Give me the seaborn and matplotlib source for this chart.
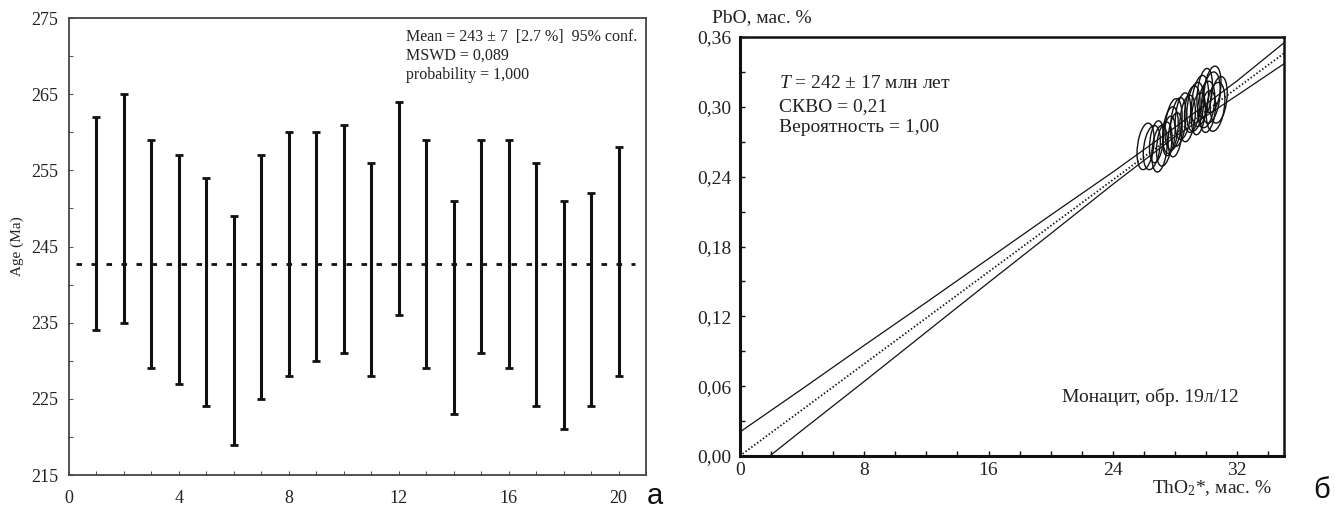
import matplotlib
matplotlib.use("Agg")
import matplotlib.pyplot as plt
from matplotlib.patches import Ellipse
from matplotlib.transforms import Affine2D
from matplotlib.ticker import MultipleLocator, FixedLocator
import numpy as np
import pandas as pd
import seaborn as sns

# ---------- panel а: single-spot ages with 2-sigma errors ----------
spot = list(range(1, 21))
age_ma = [248, 250, 244, 242, 239, 234, 241, 244, 245, 246,
          242, 250, 244, 237, 245, 244, 240, 236, 238, 243]
age_err = [14, 15, 15, 15, 15, 15, 16, 16, 15, 15,
           14, 14, 15, 14, 14, 15, 16, 15, 14, 15]
mean_age = 242.7
mean_err = 7
mean_pct = 2.7
mswd_text = "0,089"
prob_text = "1,000"
age_ticks = [215, 225, 235, 245, 255, 265, 275]

# ---------- panel б: PbO vs ThO2* isochron ----------
tho2 = [26.1, 26.5, 27.0, 26.8, 27.3, 27.7, 27.9, 28.2, 28.0, 28.5, 27.6, 28.8,
        29.1, 29.3, 29.6, 30.0, 30.3, 30.6, 29.9, 30.4, 30.1, 29.5, 30.8]
pbo = [0.266, 0.265, 0.264, 0.270, 0.268, 0.280, 0.285, 0.287, 0.276, 0.292, 0.275, 0.290,
       0.298, 0.300, 0.305, 0.302, 0.308, 0.300, 0.312, 0.315, 0.296, 0.294, 0.306]
tho2_err = [0.55, 0.55, 0.50, 0.45, 0.50, 0.50, 0.55, 0.50, 0.45, 0.50, 0.40, 0.50,
            0.50, 0.55, 0.55, 0.55, 0.60, 0.60, 0.50, 0.55, 0.50, 0.45, 0.55]
pbo_err = [0.020, 0.019, 0.020, 0.018, 0.019, 0.020, 0.022, 0.021, 0.019, 0.020, 0.017, 0.020,
           0.020, 0.021, 0.022, 0.020, 0.022, 0.021, 0.021, 0.020, 0.018, 0.018, 0.020]
err_corr = 0.3
fit_x = [0.0, 35.0]
fit_y = [0.0, 0.346]
env_x = [0, 4, 8, 12, 16, 20, 24, 28, 32, 35]
env_upper = [0.0205, 0.0575, 0.0950, 0.1320, 0.1695, 0.2070, 0.2440, 0.2825, 0.3225, 0.3550]
env_lower = [-0.0205, 0.0220, 0.0640, 0.1065, 0.1490, 0.1910, 0.2335, 0.2745, 0.3100, 0.3370]
age_text = "242 ± 17"
mswd_b = "0,21"
prob_b = "1,00"

sns.set_theme(style="ticks")
plt.rcParams["font.family"] = ["Liberation Serif", "DejaVu Serif"]
plt.rcParams["mathtext.fontset"] = "custom"
plt.rcParams["mathtext.rm"] = "Liberation Serif"
plt.rcParams["mathtext.it"] = "Liberation Serif:italic"

W, H = 1335, 508
fig = plt.figure(figsize=(W / 100, H / 100), dpi=100)
fig.patch.set_facecolor("white")

# ---------------- panel а ----------------
ax1 = fig.add_axes([69 / W, 1 - 475 / H, (646 - 69) / W, (475 - 18) / H])
ax1.set_facecolor("white")
df_a = pd.DataFrame({"spot": spot, "age": age_ma, "err": age_err})
ax1.errorbar(df_a["spot"], df_a["age"], yerr=df_a["err"], fmt="none",
             ecolor="#111111", elinewidth=2.2, capsize=2.6, capthick=2.0)
ax1.hlines(mean_age, 0.25, 20.6, colors="#111111", linewidth=2.0,
           linestyles=(0, (2.0, 3.4)))
ax1.set_xlim(0, 21)
ax1.set_ylim(215, 275)
ax1.xaxis.set_major_locator(MultipleLocator(4))
ax1.xaxis.set_minor_locator(MultipleLocator(1))
ax1.yaxis.set_major_locator(FixedLocator(age_ticks))
ax1.yaxis.set_minor_locator(FixedLocator([t + 5 for t in age_ticks[:-1]]))
ax1.tick_params(axis="both", which="both", direction="in", length=3,
                width=0.8, color="#555555", labelsize=13, labelcolor="#222222")
ax1.tick_params(axis="x", pad=11)
ax1.tick_params(axis="y", pad=8)
for s in ax1.spines.values():
    s.set_linewidth(1.3)
    s.set_color("#444444")
ax1.set_ylabel("Age (Ma)", fontsize=11, color="#222222")
ax1.yaxis.set_label_coords(-0.078, 0.5)
tx = (406 - 69) / 577
ax1.text(tx, 0.958, f"Mean = {mean_age:.0f} ± {mean_err}  [{mean_pct} %]  95% conf.",
         transform=ax1.transAxes, fontsize=11.5, va="center", ha="left", color="#222222")
ax1.text(tx, 0.917, f"MSWD = {mswd_text}", transform=ax1.transAxes,
         fontsize=11.5, va="center", ha="left", color="#222222")
ax1.text(tx, 0.875, f"probability = {prob_text}", transform=ax1.transAxes,
         fontsize=11.5, va="center", ha="left", color="#222222")
fig.text(655 / W, 1 - 496 / H, "а", family="Liberation Sans", fontsize=21,
         ha="center", va="center", color="#111111")

# ---------------- panel б ----------------
ax2 = fig.add_axes([739.7 / W, 1 - 456 / H, (1284 - 739.7) / W, (456 - 37) / H])
ax2.set_facecolor("white")
sns.lineplot(x=env_x, y=env_upper, ax=ax2, color="#111111", linewidth=0.9)
sns.lineplot(x=env_x, y=env_lower, ax=ax2, color="#111111", linewidth=0.9)
sns.lineplot(x=fit_x, y=fit_y, ax=ax2, color="#111111", linewidth=1.3,
             linestyle=(0, (0.8, 1.2)))
# correlated error ellipses: unit circle mapped by the error matrix
shape = np.array([[1.0, 0.0], [err_corr, np.sqrt(1 - err_corr ** 2)]])
for cx, cy, ex, ey in zip(tho2, pbo, tho2_err, pbo_err):
    m = np.diag([ex, ey]) @ shape
    aff = Affine2D(np.array([[m[0, 0], m[0, 1], cx],
                             [m[1, 0], m[1, 1], cy],
                             [0, 0, 1]]))
    e = Ellipse((0, 0), 2, 2, fill=False, edgecolor="#111111", linewidth=1.0)
    e.set_transform(aff + ax2.transData)
    ax2.add_patch(e)
ax2.set_xlim(0, 35)
ax2.set_ylim(0, 0.36)
ax2.xaxis.set_major_locator(MultipleLocator(8))
ax2.xaxis.set_minor_locator(MultipleLocator(2))
ax2.yaxis.set_major_locator(MultipleLocator(0.06))
ax2.yaxis.set_minor_locator(MultipleLocator(0.03))
ax2.xaxis.set_major_formatter(lambda v, p: f"{v:.0f}")
ax2.yaxis.set_major_formatter(lambda v, p: f"{v:.2f}".replace(".", ","))
ax2.tick_params(axis="both", which="both", direction="in", length=3.5,
                width=1.0, color="#111111", labelsize=14, labelcolor="#222222")
ax2.tick_params(axis="x", pad=4)
ax2.tick_params(axis="y", pad=6)
for name, s in ax2.spines.items():
    s.set_color("#111111")
    s.set_linewidth(2.2 if name in ("left", "bottom") else 1.8)
ax2.set_xlabel("")
ax2.set_ylabel("")
tx2 = (779 - 739.7) / 544.3
ax2.text(tx2, 0.890, f"$T$ = {age_text} млн лет", transform=ax2.transAxes,
         fontsize=14, va="center", ha="left", color="#222222")
ax2.text(tx2, 0.835, f"СКВО = {mswd_b}", transform=ax2.transAxes,
         fontsize=14, va="center", ha="left", color="#222222")
ax2.text(tx2, 0.783, f"Вероятность = {prob_b}", transform=ax2.transAxes,
         fontsize=14, va="center", ha="left", color="#222222")
ax2.text(0.754, 0.141, "Монацит, обр. 19л/12", transform=ax2.transAxes,
         fontsize=14, va="center", ha="center", color="#222222")
fig.text(712 / W, 1 - 18 / H, "PbO, мас. %", fontsize=14, ha="left",
         va="center", color="#222222")
fig.text(1272 / W, 1 - 488 / H, "ThO$_2$*, мас. %", fontsize=14, ha="right",
         va="center", color="#222222")
fig.text(1322 / W, 1 - 490 / H, "б", family="Liberation Sans", fontsize=21,
         ha="center", va="center", color="#111111")

fig.savefig("out.png", dpi=100, facecolor="white")
